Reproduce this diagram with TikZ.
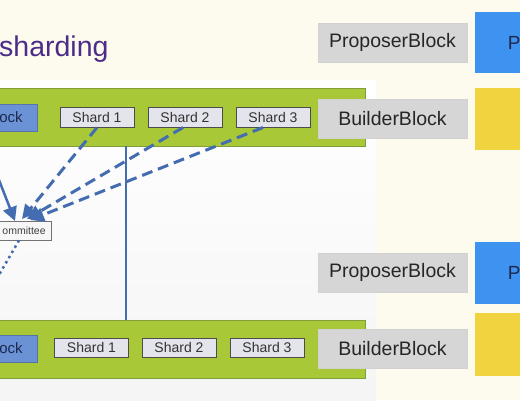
\documentclass[tikz,border=0pt]{standalone}
\usepackage{fontspec}
\setmainfont{Liberation Sans}
\usetikzlibrary{positioning}
\usetikzlibrary{arrows.meta}

\definecolor{slidebg}{RGB}{253,251,238}
\definecolor{bandgreen}{RGB}{168,200,56}
\definecolor{bandedge}{RGB}{128,158,58}
\definecolor{shardfill}{RGB}{228,228,236}
\definecolor{greyfill}{RGB}{214,214,214}
\definecolor{blkblue}{RGB}{106,146,212}
\definecolor{boxblue}{RGB}{62,146,240}
\definecolor{boxyellow}{RGB}{240,211,62}
\definecolor{linkblue}{RGB}{68,108,176}
\definecolor{titlepurple}{RGB}{76,44,136}
\definecolor{navytext}{RGB}{30,40,80}

\tikzset{
  band/.style={draw=bandedge, fill=bandgreen, line width=0.8pt, inner sep=0pt,
    minimum width=375pt, minimum height=58pt, anchor=north west},
  blk/.style={draw=blkblue!80!black, fill=blkblue, line width=0.6pt, inner sep=0pt,
    minimum height=27pt, anchor=east, text=navytext, font=\fontsize{15}{15}\selectfont},
  shard/.style={draw=black!70, fill=shardfill, line width=1pt, inner sep=0pt,
    minimum width=74pt, minimum height=20pt, text=black!80, font=\fontsize{14}{14}\selectfont},
  greybox/.style={draw=black!18, fill=greyfill, line width=0.5pt, inner sep=0pt,
    minimum width=149pt, minimum height=39pt, text=black!85, font=\fontsize{19.5}{19.5}\selectfont},
  sidebox/.style={inner sep=0pt, minimum width=78pt, anchor=north west,
    text=navytext, font=\fontsize{19}{19}\selectfont},
  cmtbox/.style={draw=black!55, fill=black!3, line width=0.8pt, inner sep=0pt,
    minimum height=19pt, anchor=east, text=black!75, font=\fontsize{10.5}{10.5}\selectfont},
  dlink/.style={draw=linkblue, line width=3pt, dash pattern=on 11pt off 6pt,
    -{Triangle[length=14pt,width=14pt]}},
  slink/.style={draw=linkblue, line width=2.5pt, -{Triangle[length=14pt,width=14pt]}},
  vlink/.style={draw=linkblue, line width=2.4pt},
  dotlink/.style={draw=linkblue, line width=2.5pt, dash pattern=on 2.5pt off 3.5pt}
}

\begin{document}
\begin{tikzpicture}[x=1pt, y=-1pt]
\useasboundingbox (0,0) rectangle (520,400);
\clip (0,0) rectangle (520,400);
\fill[slidebg] (0,0) rectangle (520,400);
\shade[top color=white, bottom color=black!4] (0,80) rectangle (376,400);

%title
\node[anchor=west, inner sep=0pt, text=titlepurple, font=\fontsize{28.5}{28.5}\selectfont] (ttl) at (-1,49) {sharding};

%top row
\node[band] (topband) at (-10,88) {};
\node[blk] (tblk) at (38,117.5) {\hspace*{14pt}ock\hspace*{15pt}};
\node[shard] (ts1) at (97,117) {Shard 1};
\node[shard] (ts2) at (185,117) {Shard 2};
\node[shard] (ts3) at (273,117) {Shard 3};
\node[greybox] (tprop) at (392.5,42.5) {ProposerBlock};
\node[greybox] (tbuild) at (392.5,118.5) {BuilderBlock};
\node[sidebox, fill=boxblue, minimum height=61pt] (tpb) at (475,12) {P};
\node[sidebox, fill=boxyellow, minimum height=62pt] (tyb) at (475,88) {};

%bottom row
\node[band] (botband) at (-10,320) {};
\node[blk] (bblk) at (38,348.5) {\hspace*{14pt}ock\hspace*{15pt}};
\node[shard, minimum height=19pt] (bs1) at (91.5,347.5) {Shard 1};
\node[shard, minimum height=19pt] (bs2) at (179,347.5) {Shard 2};
\node[shard, minimum height=19pt] (bs3) at (267,347.5) {Shard 3};
\node[greybox] (bprop) at (392.5,272.5) {ProposerBlock};
\node[greybox] (bbuild) at (392.5,349) {BuilderBlock};
\node[sidebox, fill=boxblue, minimum height=62pt] (bpb) at (475,242) {P};
\node[sidebox, fill=boxyellow, minimum height=63pt] (byb) at (475,313) {};

%committee
\node[cmtbox] (cmt) at (52,230.5) {\hspace*{12pt}ommittee\hspace*{6pt}};

%links
\coordinate (vtop) at (126,146);
\draw[vlink] (vtop) -- (vtop |- botband.north);

\coordinate (tip0) at (15,221);
\coordinate (tip1) at (22,219);
\coordinate (tip2) at (27,219);
\coordinate (tip3) at (30,220);
\coordinate (lft) at (-3,175);
\coordinate (dotend) at (-4,280);

\draw[slink] (lft) -- (tip0);
\draw[dlink] (ts1.south) -- (tip1);
\draw[dlink] ([xshift=-2pt]ts2.south) -- (tip2);
\draw[dlink] ([xshift=-10pt]ts3.south) -- (tip3);
\draw[dotlink] ([xshift=-2pt]cmt.south) -- (dotend);
\end{tikzpicture}
\end{document}
